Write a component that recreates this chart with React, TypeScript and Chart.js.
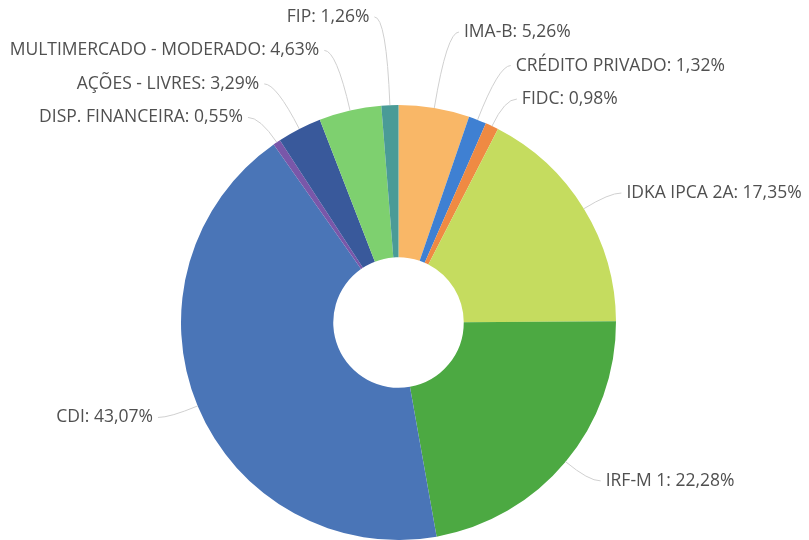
import React, { useEffect, useRef } from "react";
import { Chart, registerables } from "chart.js";

Chart.register(...registerables);

const categories = [
  "IMA-B",
  "CRÉDITO PRIVADO",
  "FIDC",
  "IDKA IPCA 2A",
  "IRF-M 1",
  "CDI",
  "DISP. FINANCEIRA",
  "AÇÕES - LIVRES",
  "MULTIMERCADO - MODERADO",
  "FIP",
];
const shares = [5.26, 1.32, 0.98, 17.35, 22.28, 43.07, 0.55, 3.29, 4.63, 1.26];
const sliceColors = [
  "#f9b767",
  "#3f80d2",
  "#ef8a43",
  "#c5dc5f",
  "#4ca942",
  "#4a75b7",
  "#7957a9",
  "#39599b",
  "#7ed06f",
  "#4a9b97",
];

const fmt = (v: number) => v.toFixed(2).replace(".", ",") + "%";

const outsideLabels = {
  id: "outsideLabels",
  afterDatasetsDraw(chart: any) {
    const meta = chart.getDatasetMeta(0);
    const ctx = chart.ctx as CanvasRenderingContext2D;
    const S = 33.5;
    const items = meta.data.map((arc: any, i: number) => {
      const p = arc.getProps(["x", "y", "startAngle", "endAngle", "outerRadius"], true);
      const a = (p.startAngle + p.endAngle) / 2;
      const Rt = p.outerRadius + 30;
      return {
        i,
        a,
        cx: p.x,
        cy: p.y,
        r: p.outerRadius,
        Rt,
        right: Math.cos(a) >= 0,
        top: Math.sin(a) < 0,
        ny: p.y + Rt * Math.sin(a),
        y: 0,
      };
    });
    for (const right of [true, false]) {
      const topG = items.filter((it: any) => it.right === right && it.top).sort((p: any, q: any) => q.ny - p.ny);
      let prev = Infinity;
      for (const it of topG) {
        it.y = Math.min(it.ny, prev - S);
        prev = it.y;
      }
      const botG = items.filter((it: any) => it.right === right && !it.top).sort((p: any, q: any) => p.ny - q.ny);
      prev = -Infinity;
      for (const it of botG) {
        it.y = Math.max(it.ny, prev + S);
        prev = it.y;
      }
    }
    ctx.save();
    ctx.font = '17.5px "Open Sans"';
    ctx.textBaseline = "middle";
    for (const it of items) {
      const s = Math.sin(it.a);
      const c = Math.cos(it.a);
      const t = Math.abs(s) < 0.2 ? it.Rt : (it.y - it.cy) / s;
      const xr = it.cx + t * c;
      const dir = it.right ? 1 : -1;
      const xa = xr + dir * 12;
      const ex = it.cx + it.r * c;
      const ey = it.cy + it.r * s;
      ctx.beginPath();
      ctx.moveTo(xa, it.y);
      ctx.quadraticCurveTo(xr, it.y, ex, ey);
      ctx.strokeStyle = "#d0d0d0";
      ctx.lineWidth = 1;
      ctx.stroke();
      ctx.fillStyle = "#505050";
      ctx.textAlign = it.right ? "left" : "right";
      ctx.fillText(`${categories[it.i]}: ${fmt(shares[it.i])}`, xa + dir * 5, it.y);
    }
    ctx.restore();
  },
};

export default function App() {
  const ref = useRef<HTMLCanvasElement | null>(null);
  useEffect(() => {
    if (!ref.current) return;
    const chart = new Chart(ref.current, {
      type: "doughnut",
      data: {
        labels: categories,
        datasets: [
          {
            data: shares,
            backgroundColor: sliceColors,
            borderWidth: 0,
          },
        ],
      },
      options: {
        animation: false,
        responsive: false,
        cutout: "30%",
        layout: { padding: { left: 181, right: 193, top: 105, bottom: 0 } },
        plugins: {
          legend: { display: false },
          tooltip: { enabled: false },
        },
      },
      plugins: [outsideLabels],
    });
    return () => chart.destroy();
  }, []);
  return (
    <div style={{ position: "fixed", left: 0, top: 0, width: 809, height: 540, background: "#fff" }}>
      <canvas ref={ref} width={809} height={540} style={{ display: "block" }} />
    </div>
  );
}
